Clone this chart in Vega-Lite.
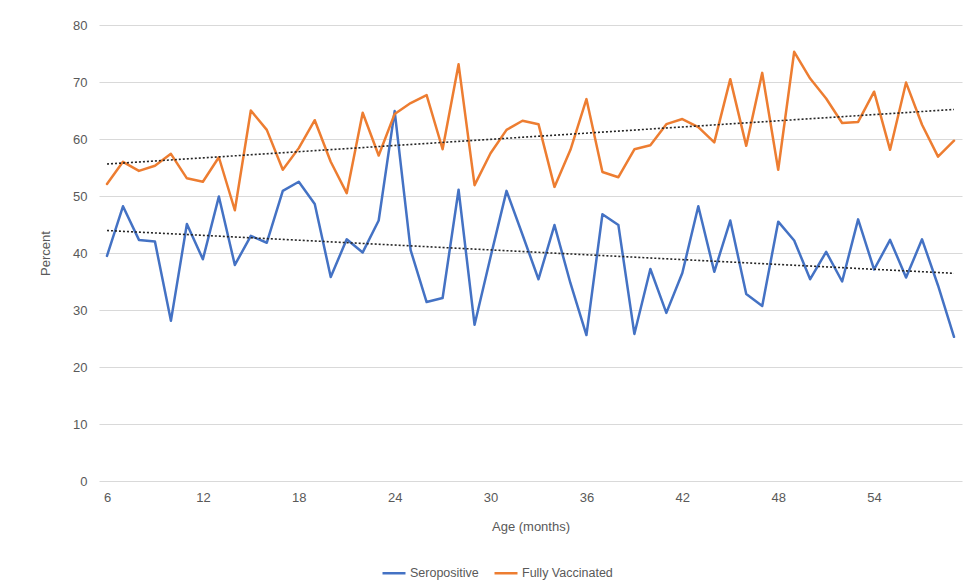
{
  "$schema": "https://vega.github.io/schema/vega-lite/v6.json",
  "width": 863,
  "height": 456,
  "autosize": {"type": "none"},
  "padding": {"left": 99, "top": 25, "right": 13, "bottom": 101},
  "background": "white",
  "config": {
    "view": {"stroke": null},
    "font": "Liberation Sans",
    "axis": {"labelColor": "#595959", "titleColor": "#595959", "labelFontSize": 13, "titleFontSize": 13, "titleFontWeight": "normal", "labelFont": "Liberation Sans", "titleFont": "Liberation Sans"},
    "legend": {"labelColor": "#595959", "labelFontSize": 12.5, "labelFont": "Liberation Sans"}
  },
  "data": {
    "values": [
      {"age": 6, "Seropositive": 39.5, "Fully Vaccinated": 52.1},
      {"age": 7, "Seropositive": 48.2, "Fully Vaccinated": 56.0},
      {"age": 8, "Seropositive": 42.3, "Fully Vaccinated": 54.4},
      {"age": 9, "Seropositive": 42.0, "Fully Vaccinated": 55.3},
      {"age": 10, "Seropositive": 28.1, "Fully Vaccinated": 57.4},
      {"age": 11, "Seropositive": 45.1, "Fully Vaccinated": 53.1},
      {"age": 12, "Seropositive": 38.9, "Fully Vaccinated": 52.5},
      {"age": 13, "Seropositive": 49.9, "Fully Vaccinated": 56.8},
      {"age": 14, "Seropositive": 37.9, "Fully Vaccinated": 47.5},
      {"age": 15, "Seropositive": 43.0, "Fully Vaccinated": 65.0},
      {"age": 16, "Seropositive": 41.8, "Fully Vaccinated": 61.6},
      {"age": 17, "Seropositive": 50.9, "Fully Vaccinated": 54.6},
      {"age": 18, "Seropositive": 52.5, "Fully Vaccinated": 58.4},
      {"age": 19, "Seropositive": 48.6, "Fully Vaccinated": 63.3},
      {"age": 20, "Seropositive": 35.8, "Fully Vaccinated": 56.0},
      {"age": 21, "Seropositive": 42.4, "Fully Vaccinated": 50.5},
      {"age": 22, "Seropositive": 40.1, "Fully Vaccinated": 64.6},
      {"age": 23, "Seropositive": 45.7, "Fully Vaccinated": 57.1},
      {"age": 24, "Seropositive": 64.9, "Fully Vaccinated": 64.4},
      {"age": 25, "Seropositive": 40.5, "Fully Vaccinated": 66.3},
      {"age": 26, "Seropositive": 31.4, "Fully Vaccinated": 67.7},
      {"age": 27, "Seropositive": 32.1, "Fully Vaccinated": 58.2},
      {"age": 28, "Seropositive": 51.1, "Fully Vaccinated": 73.1},
      {"age": 29, "Seropositive": 27.4, "Fully Vaccinated": 51.9},
      {"age": 30, "Seropositive": 39.3, "Fully Vaccinated": 57.5},
      {"age": 31, "Seropositive": 50.9, "Fully Vaccinated": 61.6},
      {"age": 32, "Seropositive": 43.2, "Fully Vaccinated": 63.2},
      {"age": 33, "Seropositive": 35.4, "Fully Vaccinated": 62.6},
      {"age": 34, "Seropositive": 44.9, "Fully Vaccinated": 51.6},
      {"age": 35, "Seropositive": 34.7, "Fully Vaccinated": 58.1},
      {"age": 36, "Seropositive": 25.6, "Fully Vaccinated": 67.0},
      {"age": 37, "Seropositive": 46.8, "Fully Vaccinated": 54.2},
      {"age": 38, "Seropositive": 44.9, "Fully Vaccinated": 53.3},
      {"age": 39, "Seropositive": 25.8, "Fully Vaccinated": 58.2},
      {"age": 40, "Seropositive": 37.2, "Fully Vaccinated": 58.9},
      {"age": 41, "Seropositive": 29.5, "Fully Vaccinated": 62.6},
      {"age": 42, "Seropositive": 36.5, "Fully Vaccinated": 63.5},
      {"age": 43, "Seropositive": 48.2, "Fully Vaccinated": 62.1},
      {"age": 44, "Seropositive": 36.7, "Fully Vaccinated": 59.4},
      {"age": 45, "Seropositive": 45.7, "Fully Vaccinated": 70.5},
      {"age": 46, "Seropositive": 32.8, "Fully Vaccinated": 58.8},
      {"age": 47, "Seropositive": 30.7, "Fully Vaccinated": 71.6},
      {"age": 48, "Seropositive": 45.5, "Fully Vaccinated": 54.6},
      {"age": 49, "Seropositive": 42.2, "Fully Vaccinated": 75.3},
      {"age": 50, "Seropositive": 35.4, "Fully Vaccinated": 70.6},
      {"age": 51, "Seropositive": 40.2, "Fully Vaccinated": 67.1},
      {"age": 52, "Seropositive": 35.0, "Fully Vaccinated": 62.8},
      {"age": 53, "Seropositive": 45.9, "Fully Vaccinated": 63.0},
      {"age": 54, "Seropositive": 37.1, "Fully Vaccinated": 68.3},
      {"age": 55, "Seropositive": 42.3, "Fully Vaccinated": 58.1},
      {"age": 56, "Seropositive": 35.7, "Fully Vaccinated": 69.9},
      {"age": 57, "Seropositive": 42.4, "Fully Vaccinated": 62.5},
      {"age": 58, "Seropositive": 34.3, "Fully Vaccinated": 56.9},
      {"age": 59, "Seropositive": 25.3, "Fully Vaccinated": 59.7}
    ]
  },
  "transform": [
    {"fold": ["Seropositive", "Fully Vaccinated"], "as": ["series", "value"]}
  ],
  "encoding": {
    "x": {
      "field": "age", "type": "quantitative",
      "scale": {"domain": [5.5, 59.5], "nice": false, "zero": false},
      "axis": {"title": "Age (months)", "values": [6, 12, 18, 24, 30, 36, 42, 48, 54], "grid": false, "domain": false, "ticks": false, "labelPadding": 10, "titlePadding": 16}
    },
    "y": {
      "field": "value", "type": "quantitative",
      "scale": {"domain": [0, 80], "nice": false},
      "axis": {"title": "Percent", "values": [0, 10, 20, 30, 40, 50, 60, 70, 80], "grid": true, "gridColor": "#D9D9D9", "gridWidth": 1, "domain": false, "ticks": false, "labelPadding": 12, "titlePadding": 20}
    }
  },
  "layer": [
    {
      "mark": {"type": "line", "strokeWidth": 2.5, "strokeJoin": "round", "strokeCap": "round"},
      "encoding": {
        "color": {
          "field": "series", "type": "nominal",
          "scale": {"domain": ["Seropositive", "Fully Vaccinated"], "range": ["#4472C4", "#ED7D31"]},
          "legend": {"title": null, "orient": "none", "legendX": 282, "legendY": 535, "direction": "horizontal", "symbolType": "stroke", "symbolSize": 529, "symbolStrokeWidth": 2.5, "labelOffset": 3, "columnPadding": 10}
        }
      }
    },
    {
      "transform": [
        {"regression": "value", "on": "age", "groupby": ["series"], "extent": [6, 59]}
      ],
      "mark": {"type": "line", "color": "#262626", "strokeWidth": 1.6, "strokeDash": [2, 2]},
      "encoding": {
        "detail": {"field": "series", "type": "nominal"}
      }
    }
  ]
}
